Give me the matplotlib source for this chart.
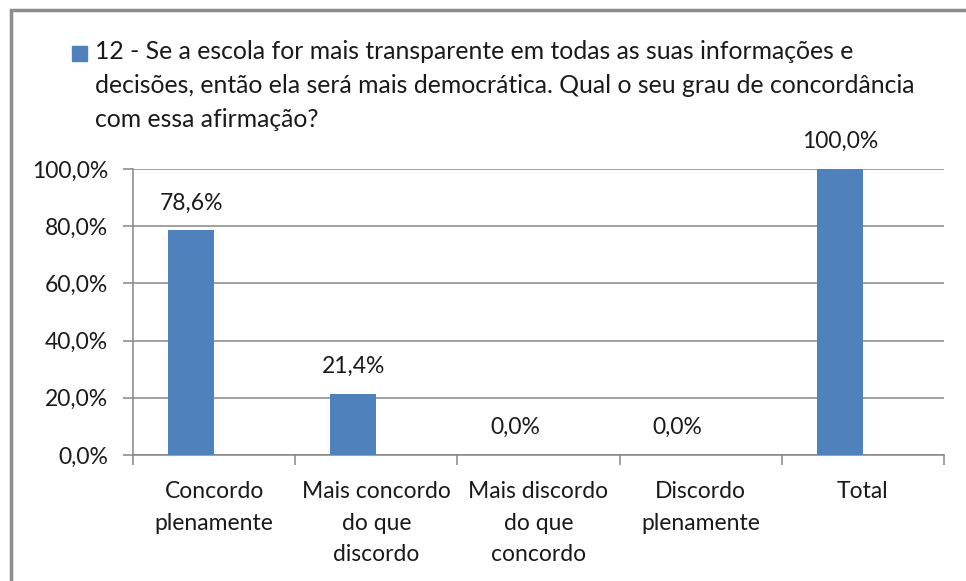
import matplotlib
matplotlib.use("Agg")
import matplotlib.pyplot as plt
from matplotlib.patches import Rectangle

categories = ["Concordo\nplenamente", "Mais concordo\ndo que\ndiscordo",
              "Mais discordo\ndo que\nconcordo", "Discordo\nplenamente", "Total"]
values = [78.6, 21.4, 0.0, 0.0, 100.0]
value_labels = ["78,6%", "21,4%", "0,0%", "0,0%", "100,0%"]
y_ticks = [0, 20, 40, 60, 80, 100]
y_tick_labels = ["0,0%", "20,0%", "40,0%", "60,0%", "80,0%", "100,0%"]
legend_label = ("12 - Se a escola for mais transparente em todas as suas informações e\n"
                "decisões, então ela será mais democrática. Qual o seu grau de concordância\n"
                "com essa afirmação?")

plt.rcParams['font.family'] = ['Lato', 'DejaVu Sans']
FS = 16.5
BAR = "#4F81BD"
GRAY = "#868686"
TXT = "#1a1a1a"
BW = 0.284

fig = plt.figure(figsize=(9.66, 5.81), dpi=100)
W, H = 966, 581
ax = fig.add_axes([133 / W, 1 - 455 / H, (944 - 133) / W, (455 - 169) / H])

x = list(range(len(categories)))
# two-series layout where the second series is empty:
# bars sit at the left half of each category slot
xb = [xi - BW / 2 for xi in x]
ax.bar(xb, values, width=BW, color=BAR, zorder=3)
for xi, v, lab in zip(xb, values, value_labels):
    ax.annotate(lab, (xi, v), xytext=(0, 12), textcoords="offset points",
                ha="center", va="bottom", fontsize=FS, color=TXT)

ax.set_xlim(-0.5, len(categories) - 0.5)
ax.set_ylim(0, 100)
ax.set_yticks(y_ticks)
ax.set_yticklabels(y_tick_labels, fontsize=FS, color=TXT)
ax.yaxis.grid(True, color=GRAY, linewidth=1.1, zorder=0)
ax.set_axisbelow(True)

ax.set_xticks([i - 0.5 for i in range(len(categories) + 1)], minor=False)
ax.set_xticklabels([])
ax.set_xticks(x, minor=True)
ax.set_xticklabels(categories, minor=True, fontsize=FS, color=TXT, linespacing=1.6)
ax.tick_params(axis="x", which="major", length=7, color=GRAY, width=1.1, direction="out")
ax.tick_params(axis="x", which="minor", length=0, pad=19)
ax.tick_params(axis="y", length=7, color=GRAY, width=1.1, pad=11)

for s in ["top", "right"]:
    ax.spines[s].set_visible(False)
for s in ["left", "bottom"]:
    ax.spines[s].set_color(GRAY)
    ax.spines[s].set_linewidth(1.1)

# legend
fig.patches.append(Rectangle((72 / W, 1 - 61 / H), 15 / W, 15 / H,
                             transform=fig.transFigure, color=BAR))
fig.text(95 / W, 1 - 40 / H, legend_label, fontsize=17.8, color=TXT,
         ha="left", va="top", linespacing=1.58)

# chart border (left/top visible)
fig.patches.append(Rectangle((11 / W, -0.05), 1.2, 1 - 10 / H + 0.05,
                             transform=fig.transFigure, fill=False,
                             edgecolor="#8c8c8c", linewidth=2.5))

fig.savefig("out.png", dpi=100)
